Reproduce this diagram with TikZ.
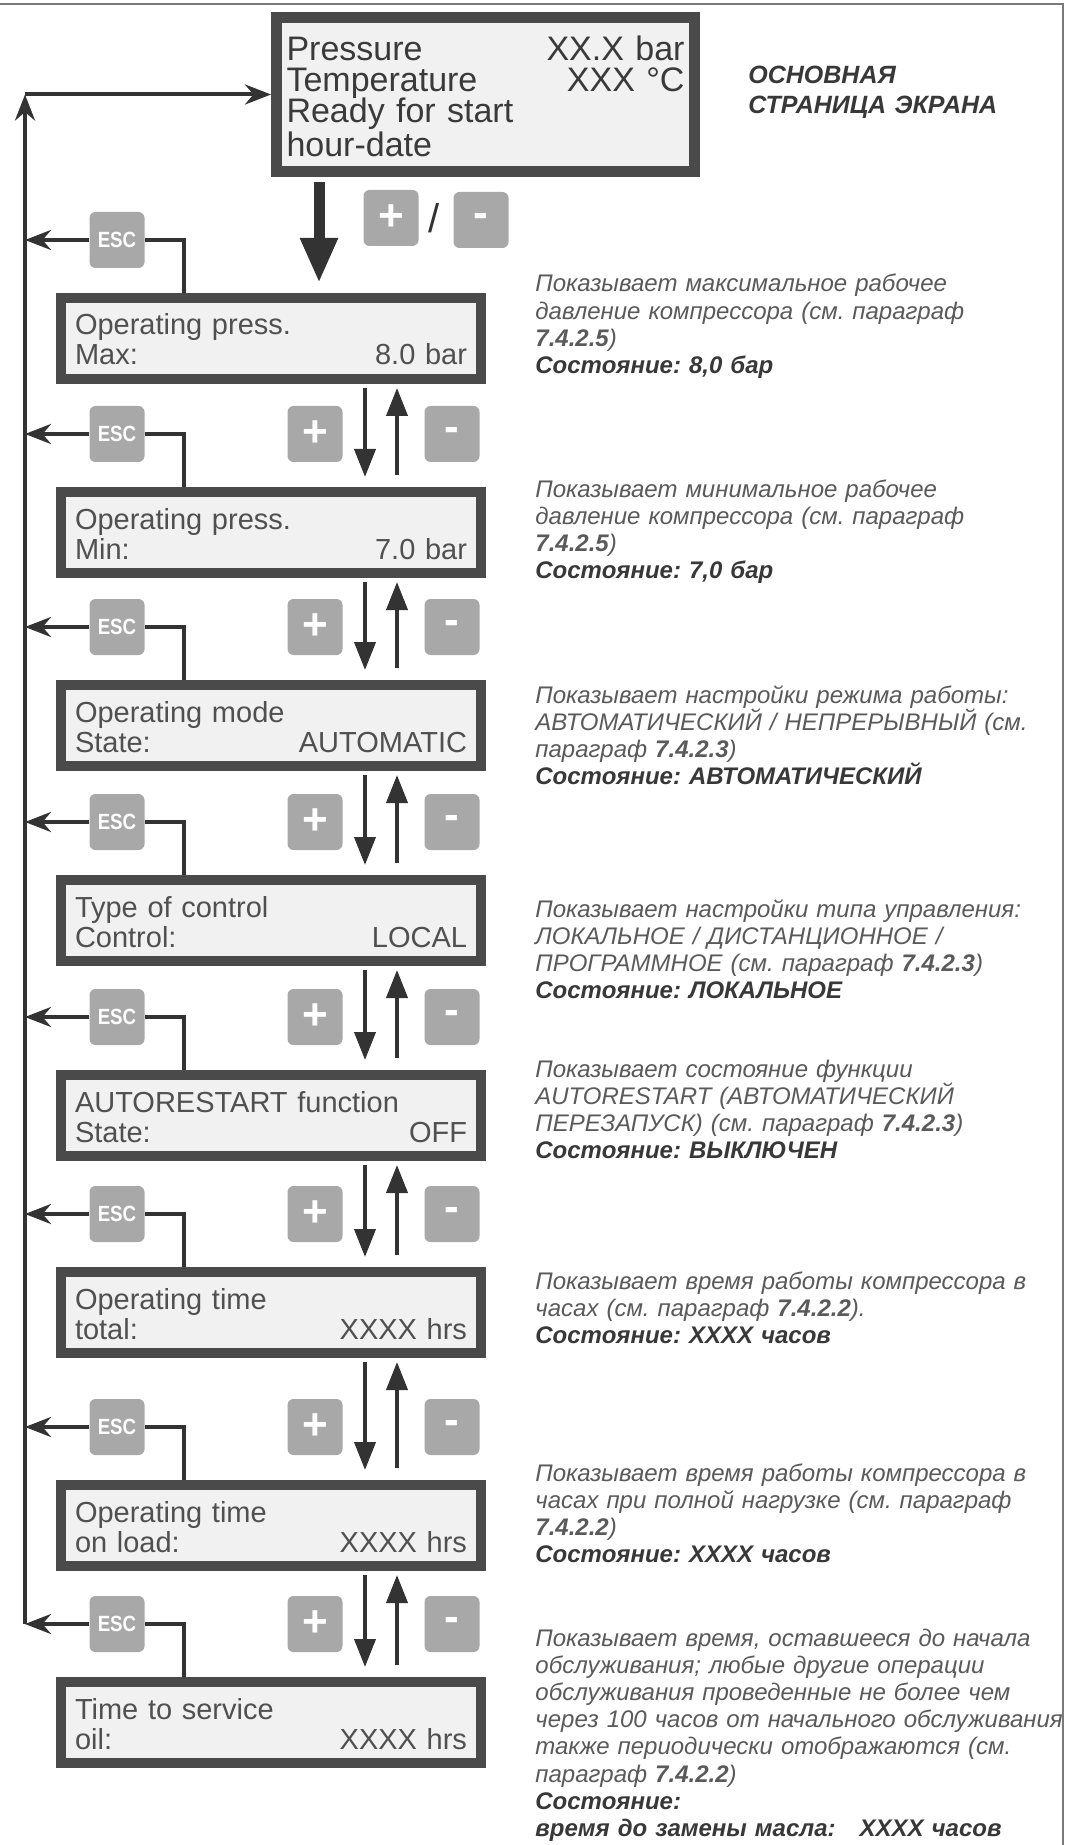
\documentclass[tikz,border=0pt]{standalone}
\usepackage{fontspec}
\setmainfont{Liberation Sans}
\newfontfamily\keyfont[FakeStretch=0.85]{Liberation Sans}
\usepackage{tikz}
\usetikzlibrary{arrows.meta}
\usepackage{xcolor}

\definecolor{edge}{HTML}{4A4A4A}
\definecolor{lcdfill}{HTML}{F1F1F1}
\definecolor{lcdtext}{HTML}{505050}
\definecolor{maintext}{HTML}{3A3A3A}
\definecolor{keygray}{HTML}{A8A8A8}
\definecolor{wirecol}{HTML}{333333}
\definecolor{notecol}{HTML}{5A5A5A}
\definecolor{notebold}{HTML}{383838}
\definecolor{framecol}{HTML}{7A7A7A}

\begin{document}
\begin{tikzpicture}[x=0.5pt,y=-0.5pt,>={Stealth[length=13pt,width=10pt]},
  lcd/.style={draw=edge,line width=5pt,fill=lcdfill,text=lcdtext,inner sep=0pt,
    minimum width=210pt,minimum height=40.5pt,text width=196pt,align=left,
    text height=14.5pt,text depth=18pt,font=\fontsize{14.5pt}{15pt}\selectfont},
  key/.style={fill=keygray,rounded corners=3pt,minimum width=27.5pt,minimum height=28pt,
    inner sep=0pt,text=white,font=\keyfont\bfseries\fontsize{11pt}{11pt}\selectfont},
  sign/.style={key,font=\bfseries\fontsize{22pt}{22pt}\selectfont},
  wire/.style={draw=wirecol,line width=2pt},
  flip/.style={wire,-{Triangle[length=14pt,width=10.5pt]}},
  note/.style={anchor=base west,inner sep=0pt,text width=270pt,align=left,text=notecol,
    font=\itshape\fontsize{12pt}{13.6pt}\selectfont\frenchspacing}]
\fill[white] (0,0) rectangle (1069,1845);
\useasboundingbox (0,0) rectangle (1069,1845);
\draw[framecol,line width=1pt] (0,4) -- (1063,4) -- (1063,1845);

% main page
\node[lcd,line width=5.5pt,minimum width=209pt,minimum height=77pt,text width=199pt,
  text height=16pt,text depth=49.5pt,text=maintext,
  font=\fontsize{17pt}{15.4pt}\selectfont] (main) at (485.5,94.5)
  {\lineskiplimit=-20pt\relax
   Pressure\hfill XX.X bar\\Temperature\hfill XXX °C\\Ready for start\\hour-date};
\node[anchor=base west,inner sep=0pt,text width=170pt,align=left,text=notebold,
  font=\bfseries\itshape\fontsize{12.5pt}{15pt}\selectfont] (title) at (748,84)
  {ОСНОВНАЯ\\СТРАНИЦА ЭКРАНА};
\node[sign] (plus0) at (391,218) {+};
\node[inner sep=0pt,text=wirecol,font=\fontsize{20pt}{20pt}\selectfont] (slash) at (434,218) {/};
\node[sign] (minus0) at (481,220) {-};

% display pages
\node[lcd] (b1) at (271,338.5) {Operating press.\\Max:\hfill 8.0 bar};
\node[lcd] (b2) at (271,532.5) {Operating press.\\Min:\hfill 7.0 bar};
\node[lcd] (b3) at (271,725.5) {Operating mode\\State:\hfill AUTOMATIC};
\node[lcd] (b4) at (271,920.5) {Type of control\\Control:\hfill LOCAL};
\node[lcd] (b5) at (271,1115.5) {AUTORESTART function\\State:\hfill OFF};
\node[lcd] (b6) at (271,1312.5) {Operating time\\total:\hfill XXXX hrs};
\node[lcd] (b7) at (271,1525.5) {Operating time\\on load:\hfill XXXX hrs};
\node[lcd] (b8) at (271,1722.5) {Time to service\\oil:\hfill XXXX hrs};

% keys
\node[key] (esc1) at (117,240) {ESC};
\node[key] (esc2) at (117,434) {ESC};
\node[key] (esc3) at (117,627) {ESC};
\node[key] (esc4) at (117,822) {ESC};
\node[key] (esc5) at (117,1017) {ESC};
\node[key] (esc6) at (117,1214) {ESC};
\node[key] (esc7) at (117,1427) {ESC};
\node[key] (esc8) at (117,1624) {ESC};
\node[sign] (plus2) at (315,434) {+};  \node[sign] (minus2) at (452,434) {-};
\node[sign] (plus3) at (315,627) {+};  \node[sign] (minus3) at (452,627) {-};
\node[sign] (plus4) at (315,822) {+};  \node[sign] (minus4) at (452,822) {-};
\node[sign] (plus5) at (315,1017) {+}; \node[sign] (minus5) at (452,1017) {-};
\node[sign] (plus6) at (315,1214) {+}; \node[sign] (minus6) at (452,1214) {-};
\node[sign] (plus7) at (315,1427) {+}; \node[sign] (minus7) at (452,1427) {-};
\node[sign] (plus8) at (315,1624) {+}; \node[sign] (minus8) at (452,1624) {-};

% notes
\node[note] (n1) at (535,292) {Показывает максимальное рабочее\\давление компрессора (см. параграф\\\textbf{7.4.2.5})\\{\bfseries\color{notebold}Состояние: 8,0 бар}};
\node[note] (n2) at (535,497) {Показывает минимальное рабочее\\давление компрессора (см. параграф\\\textbf{7.4.2.5})\\{\bfseries\color{notebold}Состояние: 7,0 бар}};
\node[note] (n3) at (535,703) {Показывает настройки режима работы:\\АВТОМАТИЧЕСКИЙ / НЕПРЕРЫВНЫЙ (см.\\параграф \textbf{7.4.2.3})\\{\bfseries\color{notebold}Состояние: АВТОМАТИЧЕСКИЙ}};
\node[note] (n4) at (535,917) {Показывает настройки типа управления:\\ЛОКАЛЬНОЕ / ДИСТАНЦИОННОЕ /\\ПРОГРАММНОЕ (см. параграф \textbf{7.4.2.3})\\{\bfseries\color{notebold}Состояние: ЛОКАЛЬНОЕ}};
\node[note] (n5) at (535,1077) {Показывает состояние функции\\AUTORESTART (АВТОМАТИЧЕСКИЙ\\ПЕРЕЗАПУСК) (см. параграф \textbf{7.4.2.3})\\{\bfseries\color{notebold}Состояние: ВЫКЛЮЧЕН}};
\node[note] (n6) at (535,1289) {Показывает время работы компрессора в\\часах (см. параграф \textbf{7.4.2.2}).\\{\bfseries\color{notebold}Состояние: XXXX часов}};
\node[note] (n7) at (535,1481) {Показывает время работы компрессора в\\часах при полной нагрузке (см. параграф\\\textbf{7.4.2.2})\\{\bfseries\color{notebold}Состояние: XXXX часов}};
\node[note] (n8) at (535,1646) {Показывает время, оставшееся до начала\\обслуживания; любые другие операции\\обслуживания проведенные не более чем\\через 100 часов от начального обслуживания\\также периодически отображаются (см.\\параграф \textbf{7.4.2.2})\\{\bfseries\color{notebold}Состояние:}\\{\bfseries\color{notebold}время до замены масла:\quad XXXX часов}};

% return line
\coordinate (top) at (25,94.5);
\coordinate (bot) at (25,1624);
\draw[wire,->] (bot) -- (top);
\draw[wire,->] (top) -- (main.west);
\draw[wire,line width=5.5pt,-{Triangle[length=22.5pt,width=17.5pt]},shorten <=2.5pt,shorten >=5pt]
  ([xshift=24pt]main.south west) -- ([xshift=24pt]main.south west |- b1.north);

% esc links
\draw[wire] (esc1.east) -| ([xshift=64pt]b1.north west); \draw[wire,->] (esc1.west) -- (esc1.west -| top);
\draw[wire] (esc2.east) -| ([xshift=64pt]b2.north west); \draw[wire,->] (esc2.west) -- (esc2.west -| top);
\draw[wire] (esc3.east) -| ([xshift=64pt]b3.north west); \draw[wire,->] (esc3.west) -- (esc3.west -| top);
\draw[wire] (esc4.east) -| ([xshift=64pt]b4.north west); \draw[wire,->] (esc4.west) -- (esc4.west -| top);
\draw[wire] (esc5.east) -| ([xshift=64pt]b5.north west); \draw[wire,->] (esc5.west) -- (esc5.west -| top);
\draw[wire] (esc6.east) -| ([xshift=64pt]b6.north west); \draw[wire,->] (esc6.west) -- (esc6.west -| top);
\draw[wire] (esc7.east) -| ([xshift=64pt]b7.north west); \draw[wire,->] (esc7.west) -- (esc7.west -| top);
\draw[wire] (esc8.east) -| ([xshift=64pt]b8.north west); \draw[wire,->] (esc8.west) -- (esc8.west -| top);

% +/- steps
\draw[flip,shorten <=2pt,shorten >=5pt] ([xshift=154.5pt]b1.south west) -- ([xshift=154.5pt]b2.north west);
\draw[flip,shorten <=6pt,shorten >=2pt] ([xshift=170.5pt]b2.north west) -- ([xshift=170.5pt]b1.south west);
\draw[flip,shorten <=2pt,shorten >=5pt] ([xshift=154.5pt]b2.south west) -- ([xshift=154.5pt]b3.north west);
\draw[flip,shorten <=6pt,shorten >=2pt] ([xshift=170.5pt]b3.north west) -- ([xshift=170.5pt]b2.south west);
\draw[flip,shorten <=2pt,shorten >=5pt] ([xshift=154.5pt]b3.south west) -- ([xshift=154.5pt]b4.north west);
\draw[flip,shorten <=6pt,shorten >=2pt] ([xshift=170.5pt]b4.north west) -- ([xshift=170.5pt]b3.south west);
\draw[flip,shorten <=2pt,shorten >=5pt] ([xshift=154.5pt]b4.south west) -- ([xshift=154.5pt]b5.north west);
\draw[flip,shorten <=6pt,shorten >=2pt] ([xshift=170.5pt]b5.north west) -- ([xshift=170.5pt]b4.south west);
\draw[flip,shorten <=2pt,shorten >=5pt] ([xshift=154.5pt]b5.south west) -- ([xshift=154.5pt]b6.north west);
\draw[flip,shorten <=6pt,shorten >=2pt] ([xshift=170.5pt]b6.north west) -- ([xshift=170.5pt]b5.south west);
\draw[flip,shorten <=2pt,shorten >=5pt] ([xshift=154.5pt]b6.south west) -- ([xshift=154.5pt]b7.north west);
\draw[flip,shorten <=6pt,shorten >=2pt] ([xshift=170.5pt]b7.north west) -- ([xshift=170.5pt]b6.south west);
\draw[flip,shorten <=2pt,shorten >=5pt] ([xshift=154.5pt]b7.south west) -- ([xshift=154.5pt]b8.north west);
\draw[flip,shorten <=6pt,shorten >=2pt] ([xshift=170.5pt]b8.north west) -- ([xshift=170.5pt]b7.south west);
\end{tikzpicture}
\end{document}
